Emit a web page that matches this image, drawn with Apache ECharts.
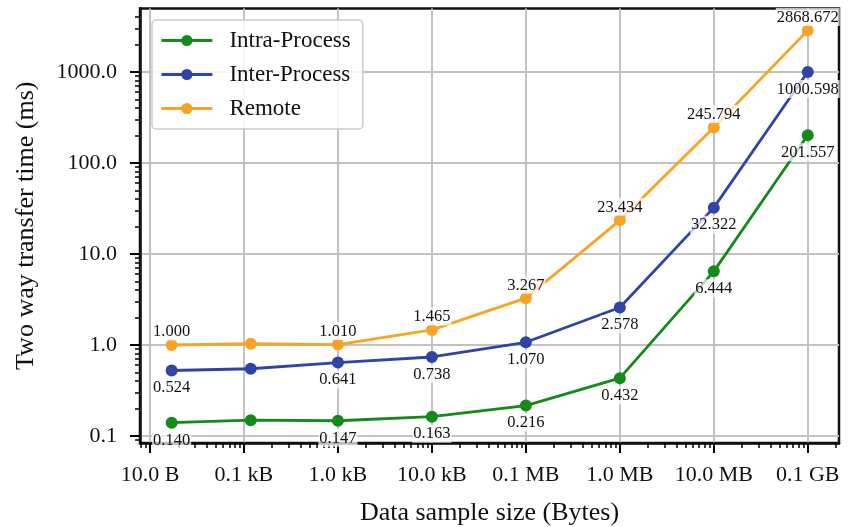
<!DOCTYPE html>
<html><head><meta charset="utf-8">
<script src="https://cdn.jsdelivr.net/npm/echarts@6/dist/echarts.min.js"></script>
<style>html,body{margin:0;padding:0;background:#fff}#c{width:852px;height:527px}</style>
</head><body><div id="c"></div>
<script>
const sizeBytes = [17, 118, 1000, 10000, 100000, 1000000, 10000000, 100000000];
const intraProcess = [0.140, 0.149, 0.147, 0.163, 0.216, 0.432, 6.444, 201.557];
const interProcess = [0.524, 0.548, 0.641, 0.738, 1.070, 2.578, 32.322, 1000.598];
const remote = [1.000, 1.032, 1.010, 1.465, 3.267, 23.434, 245.794, 2868.672];
const labelShown = [true, false, true, true, true, true, true, true];
const seriesNames = ['Intra-Process', 'Inter-Process', 'Remote'];
const xTickValues = [10, 100, 1e3, 1e4, 1e5, 1e6, 1e7, 1e8];
const xTickLabels = ['10.0 B', '0.1 kB', '1.0 kB', '10.0 kB', '0.1 MB', '1.0 MB', '10.0 MB', '0.1 GB'];
const yTickValues = [0.1, 1, 10, 100, 1000];
const yTickLabels = ['0.1', '1.0', '10.0', '100.0', '1000.0'];

const X_MIN = 7.83, X_MAX = 2.15e8, Y_MIN = 0.0837, Y_MAX = 4990;
const FONT = 'Liberation Serif';
const colors = ['#15891a', '#2f44a5', '#f8a328'];

function minorTicks(lo, hi) {
  const out = [];
  for (let d = -3; d <= 10; d++) {
    for (let k = 2; k <= 9; k++) {
      const v = k * Math.pow(10, d);
      if (v > lo && v < hi) out.push(v);
    }
  }
  return out;
}
function labelFor(values, labels, v) {
  let best = 0, bd = Infinity;
  values.forEach((t, i) => { const d = Math.abs(Math.log10(t) - Math.log10(v)); if (d < bd) { bd = d; best = i; } });
  return labels[best];
}

const lineCol = '#111';
const gridCol = '#c2c2c2';

function makeSeries(name, vals, color, pos, dist) {
  return {
    name: name, type: 'line', xAxisIndex: 0, yAxisIndex: 0,
    symbol: 'circle', symbolSize: 12,
    lineStyle: { width: 2.8, color: color },
    itemStyle: { color: color },
    label: {
      show: true, position: pos, distance: dist,
      fontFamily: FONT, fontSize: 16.5, color: '#111',
      backgroundColor: 'rgba(255,255,255,0.72)', padding: [1, 1, 0, 1],
      formatter: p => p.value[1].toFixed(3)
    },
    data: sizeBytes.map((x, i) => ({ value: [x, vals[i]], label: { show: labelShown[i] } }))
  };
}

const chart = echarts.init(document.getElementById('c'), null, { renderer: 'canvas' });
chart.setOption({
  animation: false,
  backgroundColor: '#fff',
  color: colors,
  grid: { left: 140, right: 13, top: 8.5, bottom: 84, show: true, borderColor: lineCol, borderWidth: 2.5,
    containLabel: false, outerBoundsMode: 'none' },
  legend: {
    orient: 'vertical', left: 152, top: 20,
    backgroundColor: 'rgba(255,255,255,0.85)', borderColor: '#cccccc', borderWidth: 1.5, borderRadius: 4,
    padding: [9, 12, 9, 8], itemWidth: 51, itemHeight: 14, itemGap: 11,
    lineStyle: { width: 2.8 },
    textStyle: { fontFamily: FONT, fontSize: 23, color: '#111', padding: [0, 0, 0, 12] },
    data: seriesNames
  },
  xAxis: [
    {
      type: 'log', min: X_MIN, max: X_MAX, position: 'bottom',
      name: 'Data sample size (Bytes)', nameLocation: 'middle', nameGap: 57,
      nameTextStyle: { fontFamily: FONT, fontSize: 26, color: '#111' },
      axisLine: { show: true, lineStyle: { color: lineCol, width: 2.5 } },
      axisTick: { show: true, inside: false, length: 10, lineStyle: { color: '#000', width: 2 }, customValues: xTickValues },
      axisLabel: { show: true, margin: 21, fontFamily: FONT, fontSize: 22, color: '#111', customValues: xTickValues,
        formatter: v => labelFor(xTickValues, xTickLabels, v) },
      splitLine: { show: true, lineStyle: { color: gridCol, width: 2 } }
    },
    {
      type: 'log', min: X_MIN, max: X_MAX, position: 'bottom',
      axisLine: { show: false },
      axisTick: { show: true, inside: false, length: 5, lineStyle: { color: '#000', width: 1.5 }, customValues: minorTicks(X_MIN, X_MAX) },
      axisLabel: { show: false },
      splitLine: { show: false }
    }
  ],
  yAxis: [
    {
      type: 'log', min: Y_MIN, max: Y_MAX, position: 'left',
      name: 'Two way transfer time (ms)', nameLocation: 'middle', nameGap: 101,
      nameTextStyle: { fontFamily: FONT, fontSize: 26, color: '#111' },
      axisLine: { show: true, lineStyle: { color: lineCol, width: 2.5 } },
      axisTick: { show: true, inside: false, length: 10, lineStyle: { color: '#000', width: 2 }, customValues: yTickValues },
      axisLabel: { show: true, margin: 23, fontFamily: FONT, fontSize: 22, color: '#111', customValues: yTickValues,
        formatter: v => labelFor(yTickValues, yTickLabels, v) },
      splitLine: { show: true, lineStyle: { color: gridCol, width: 2 } }
    },
    {
      type: 'log', min: Y_MIN, max: Y_MAX, position: 'left',
      axisLine: { show: false },
      axisTick: { show: true, inside: false, length: 5, lineStyle: { color: '#000', width: 1.5 }, customValues: minorTicks(Y_MIN, Y_MAX) },
      axisLabel: { show: false },
      splitLine: { show: false }
    }
  ],
  series: [
    makeSeries(seriesNames[0], intraProcess, colors[0], 'bottom', 2),
    makeSeries(seriesNames[1], interProcess, colors[1], 'bottom', 2),
    makeSeries(seriesNames[2], remote, colors[2], 'top', -1.5)
  ]
});
</script></body></html>
